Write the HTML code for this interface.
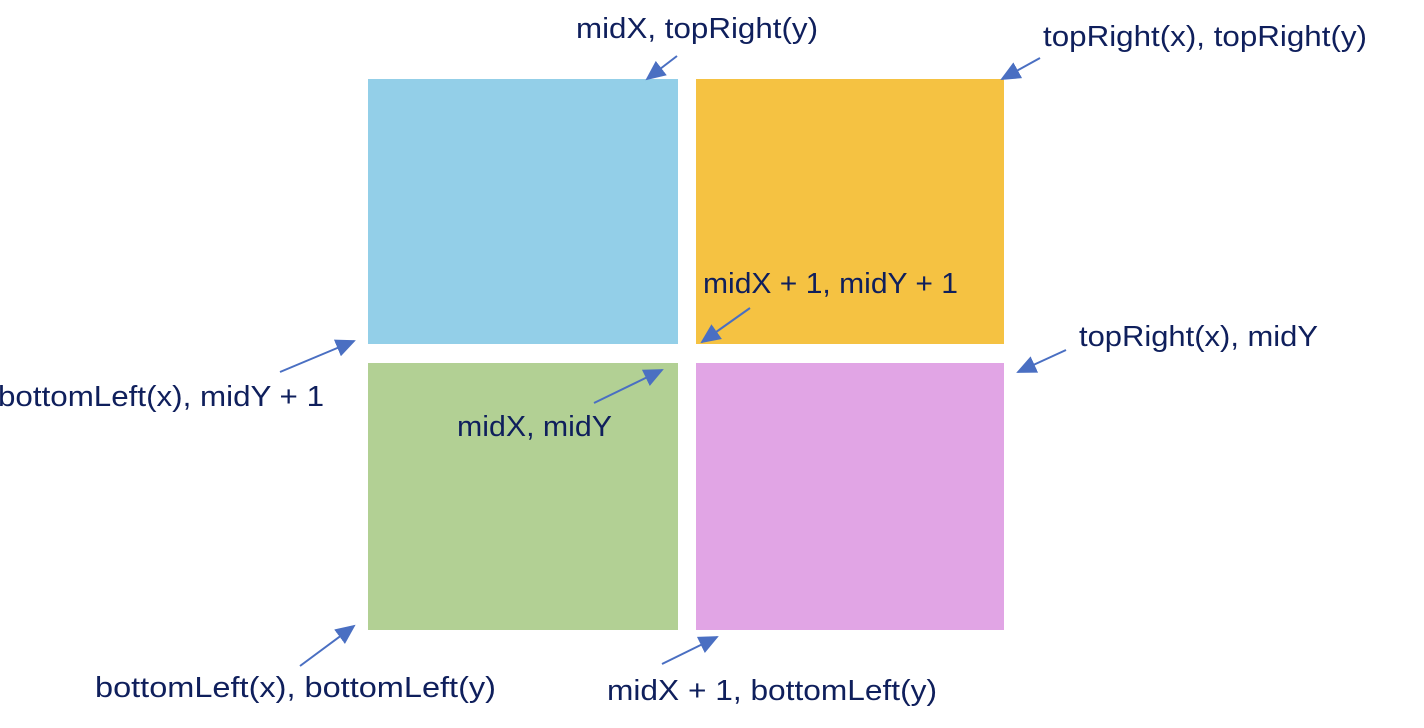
<!DOCTYPE html>
<html><head><meta charset="utf-8"><style>
html,body{margin:0;padding:0;background:#fff;width:1424px;height:728px;overflow:hidden}
text{font-family:"Liberation Sans",sans-serif;font-size:29px;fill:#0f1f5c}
</style></head><body>
<svg width="1424" height="728">
<defs><marker id="ah" markerWidth="10" markerHeight="10" refX="9" refY="5" orient="auto" markerUnits="strokeWidth"><path d="M0,0.5 L10,5 L0,9.5 z" fill="#4a6fc2"/></marker></defs>
<rect x="368" y="79" width="310" height="265" fill="#93cfe8"/>
<rect x="696" y="79" width="308" height="265" fill="#f5c242"/>
<rect x="368" y="363" width="310" height="267" fill="#b2d094"/>
<rect x="696" y="363" width="308" height="267" fill="#e1a5e5"/>
<g stroke="#4a6fc2" stroke-width="2" marker-end="url(#ah)" fill="none">
<line x1="677" y1="56" x2="647" y2="79"/>
<line x1="1040" y1="58" x2="1002" y2="79"/>
<line x1="750" y1="308" x2="702" y2="342"/>
<line x1="280" y1="372" x2="354" y2="341"/>
<line x1="594" y1="403" x2="662" y2="370"/>
<line x1="1066" y1="350" x2="1018" y2="372"/>
<line x1="300" y1="666" x2="354" y2="626"/>
<line x1="662" y1="664" x2="717" y2="637"/>
</g>
<text x="576" y="38" textLength="242" lengthAdjust="spacingAndGlyphs">midX, topRight(y)</text>
<text x="1043" y="46" textLength="324" lengthAdjust="spacingAndGlyphs">topRight(x), topRight(y)</text>
<text x="703" y="293" textLength="255" lengthAdjust="spacingAndGlyphs">midX + 1, midY + 1</text>
<text x="1079" y="346" textLength="239" lengthAdjust="spacingAndGlyphs">topRight(x), midY</text>
<text x="-2" y="406" textLength="326" lengthAdjust="spacingAndGlyphs">bottomLeft(x), midY + 1</text>
<text x="457" y="436" textLength="155" lengthAdjust="spacingAndGlyphs">midX, midY</text>
<text x="95" y="697" textLength="401" lengthAdjust="spacingAndGlyphs">bottomLeft(x), bottomLeft(y)</text>
<text x="607" y="700" textLength="330" lengthAdjust="spacingAndGlyphs">midX + 1, bottomLeft(y)</text>
</svg>
</body></html>
